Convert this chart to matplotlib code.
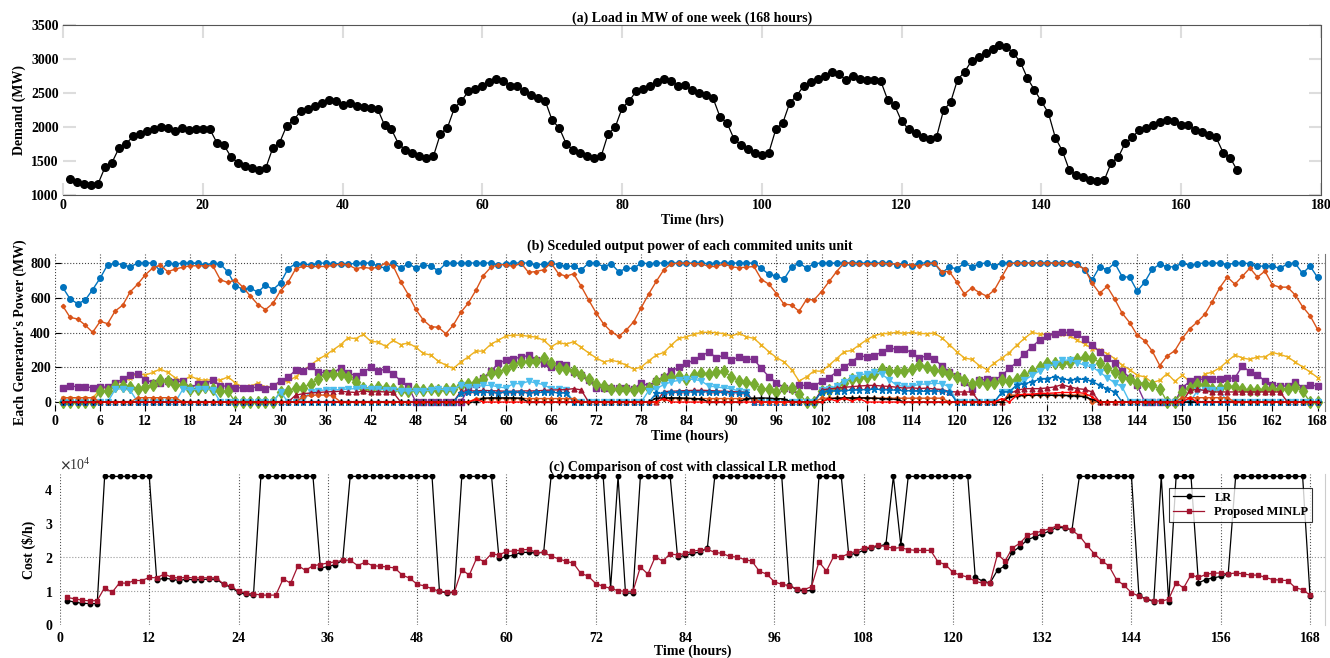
import matplotlib
matplotlib.use('Agg')
import matplotlib.pyplot as plt
import numpy as np
from matplotlib.ticker import ScalarFormatter

plt.rcParams['font.family'] = ['Liberation Serif', 'DejaVu Serif']
plt.rcParams['font.weight'] = 'bold'
plt.rcParams['axes.labelweight'] = 'bold'
plt.rcParams['axes.titleweight'] = 'bold'
plt.rcParams['mathtext.fontset'] = 'stix'
plt.rcParams['font.size'] = 10

hours = list(range(1, 169))

demand = [1236, 1197, 1162, 1143, 1162, 1408, 1477, 1689, 1753, 1861,
          1900, 1935, 1969, 1999, 1979, 1935, 1979, 1959, 1964, 1969,
          1969, 1772, 1738, 1566, 1477, 1433, 1394, 1369, 1394, 1689,
          1772, 2018, 2107, 2230, 2264, 2313, 2358, 2402, 2387, 2318,
          2353, 2304, 2294, 2284, 2269, 2028, 1964, 1753, 1664, 1615,
          1571, 1546, 1571, 1900, 1989, 2279, 2382, 2525, 2564, 2604,
          2658, 2702, 2678, 2609, 2604, 2525, 2471, 2427, 2382, 2097,
          1989, 1753, 1659, 1615, 1576, 1541, 1571, 1900, 1994, 2279,
          2382, 2525, 2564, 2609, 2658, 2707, 2678, 2609, 2619, 2540,
          2505, 2471, 2427, 2151, 2063, 1827, 1733, 1684, 1625, 1595,
          1625, 1969, 2063, 2358, 2461, 2609, 2663, 2707, 2751, 2806,
          2776, 2697, 2747, 2702, 2697, 2687, 2678, 2400, 2318, 2082,
          1969, 1915, 1856, 1831, 1856, 2250, 2363, 2697, 2810, 2973,
          3027, 3086, 3145, 3199, 3175, 3086, 2953, 2717, 2545, 2378,
          2205, 1841, 1649, 1364, 1300, 1261, 1221, 1202, 1221, 1477,
          1556, 1768, 1846, 1959, 1989, 2033, 2068, 2102, 2082, 2028,
          2033, 1959, 1920, 1886, 1846, 1625, 1551, 1364]

unit1 = [661, 593, 566, 586, 647, 713, 790, 798, 790, 778,
         800, 800, 800, 755, 800, 794, 800, 800, 800, 786,
         800, 794, 748, 669, 649, 655, 632, 674, 647, 686,
         767, 796, 794, 790, 798, 800, 796, 796, 794, 798,
         800, 800, 782, 769, 800, 771, 796, 771, 790, 782,
         755, 798, 800, 798, 800, 800, 800, 800, 788, 796,
         800, 800, 800, 786, 796, 800, 790, 780, 782, 759,
         800, 800, 778, 796, 750, 769, 769, 800, 796, 800,
         800, 800, 800, 800, 800, 800, 796, 800, 800, 800,
         800, 800, 800, 769, 734, 726, 707, 775, 800, 771,
         796, 800, 800, 800, 800, 800, 800, 800, 800, 800,
         800, 790, 800, 780, 800, 800, 800, 742, 778, 765,
         800, 778, 796, 800, 782, 800, 800, 800, 800, 800,
         800, 800, 800, 800, 800, 796, 761, 703, 778, 761,
         800, 722, 718, 638, 690, 765, 792, 778, 778, 800,
         786, 796, 800, 800, 800, 790, 800, 800, 796, 782,
         782, 782, 769, 796, 800, 740, 782, 717]

unit2 = [555, 487, 478, 443, 401, 464, 451, 524, 557, 634,
         678, 732, 771, 788, 750, 765, 776, 784, 784, 784,
         784, 703, 688, 703, 661, 609, 561, 532, 568, 640,
         688, 765, 782, 780, 780, 780, 786, 794, 790, 767,
         776, 769, 776, 800, 782, 692, 618, 534, 472, 434,
         430, 393, 443, 516, 570, 643, 728, 776, 790, 790,
         780, 800, 746, 751, 761, 800, 738, 724, 738, 667,
         588, 513, 449, 405, 378, 414, 462, 543, 622, 694,
         761, 796, 798, 800, 796, 796, 780, 780, 796, 778,
         773, 776, 780, 705, 678, 624, 563, 559, 522, 590,
         588, 636, 694, 751, 800, 800, 796, 796, 796, 798,
         796, 794, 790, 790, 782, 796, 800, 751, 751, 690,
         622, 657, 630, 609, 645, 722, 796, 800, 800, 800,
         800, 800, 800, 800, 796, 786, 767, 684, 626, 665,
         593, 511, 457, 385, 353, 293, 210, 266, 295, 366,
         422, 461, 505, 578, 659, 719, 678, 724, 771, 719,
         753, 674, 661, 661, 617, 549, 497, 418]

unit3 = [25, 25, 25, 25, 25, 70, 90, 110, 115, 140,
         165, 155, 170, 190, 170, 140, 120, 150, 130, 125,
         130, 125, 145, 110, 85, 90, 110, 85, 90, 115,
         120, 145, 180, 212, 245, 270, 300, 330, 370, 365,
         389, 350, 345, 320, 355, 330, 340, 315, 280, 270,
         235, 212, 193, 231, 260, 293, 293, 333, 356, 380,
         385, 385, 378, 374, 355, 318, 343, 333, 347, 314,
         283, 254, 231, 241, 231, 212, 189, 202, 237, 270,
         285, 328, 366, 376, 389, 401, 401, 399, 393, 380,
         395, 376, 366, 328, 289, 256, 231, 187, 121, 145,
         179, 177, 212, 250, 289, 297, 328, 358, 382, 393,
         395, 401, 395, 401, 395, 393, 397, 370, 331, 289,
         254, 245, 210, 187, 225, 254, 285, 328, 366, 401,
         391, 389, 385, 389, 382, 356, 335, 308, 299, 279,
         250, 212, 187, 154, 145, 112, 125, 164, 119, 154,
         119, 119, 160, 173, 197, 235, 270, 254, 245, 260,
         260, 285, 274, 260, 231, 202, 173, 141]

unit4 = [81, 91, 89, 87, 83, 85, 87, 110, 131, 158,
         164, 129, 112, 112, 121, 116, 121, 81, 104, 104,
         129, 92, 92, 83, 81, 83, 85, 77, 91, 123,
         143, 183, 179, 208, 173, 168, 168, 197, 166, 152,
         170, 200, 177, 191, 160, 123, 91, 0, 0, 0,
         0, 0, 0, 0, 77, 106, 139, 179, 222, 243,
         250, 258, 268, 241, 225, 202, 216, 212, 170, 158,
         125, 83, 83, 79, 79, 81, 77, 110, 92, 121,
         143, 179, 200, 222, 241, 264, 289, 254, 270, 241,
         260, 247, 245, 193, 145, 112, 81, 77, 96, 96,
         92, 119, 141, 173, 202, 231, 266, 260, 264, 289,
         312, 303, 304, 285, 254, 266, 247, 208, 173, 148,
         116, 77, 125, 131, 125, 154, 193, 231, 279, 318,
         356, 380, 393, 401, 401, 391, 362, 331, 289, 254,
         222, 179, 141, 96, 0, 0, 0, 0, 0, 83,
         119, 131, 131, 133, 133, 137, 139, 208, 173, 158,
         119, 96, 92, 92, 116, 83, 96, 94]

unit5 = [0, 0, 0, 0, 0, 62, 66, 91, 91, 87,
         77, 87, 100, 125, 121, 100, 96, 77, 77, 89,
         77, 62, 62, 0, 0, 0, 0, 0, 0, 60,
         64, 83, 83, 104, 131, 158, 160, 164, 143, 116,
         83, 77, 89, 83, 77, 67, 64, 77, 69, 77,
         69, 75, 77, 96, 102, 116, 135, 168, 173, 189,
         212, 231, 235, 235, 256, 225, 197, 189, 177, 158,
         135, 106, 91, 77, 77, 73, 71, 81, 81, 119,
         139, 145, 148, 131, 158, 166, 164, 173, 177, 145,
         123, 116, 102, 77, 77, 58, 83, 81, 48, 0,
         0, 62, 67, 83, 112, 131, 139, 145, 160, 189,
         179, 177, 181, 189, 212, 202, 187, 179, 164, 145,
         125, 102, 116, 104, 108, 125, 119, 131, 154, 179,
         202, 222, 225, 225, 231, 250, 260, 256, 227, 193,
         170, 145, 135, 112, 106, 96, 77, 0, 0, 58,
         83, 104, 100, 77, 83, 92, 89, 73, 69, 71,
         73, 77, 77, 77, 87, 64, 0, 0]

unit6 = [0, 0, 0, 0, 0, 0, 0, 73, 77, 67,
         0, 0, 0, 0, 0, 0, 73, 71, 73, 77,
         71, 0, 0, 0, 0, 0, 0, 0, 0, 58,
         0, 0, 19, 58, 64, 71, 71, 71, 75, 77,
         81, 77, 73, 71, 67, 64, 64, 66, 66, 67,
         77, 69, 69, 100, 87, 87, 96, 96, 87, 81,
         106, 106, 119, 110, 100, 77, 77, 67, 0, 0,
         0, 0, 0, 0, 0, 0, 0, 0, 66, 77,
         100, 116, 125, 131, 131, 121, 92, 87, 81, 77,
         62, 58, 0, 0, 0, 0, 0, 0, 0, 0,
         0, 67, 77, 92, 116, 139, 154, 164, 173, 160,
         129, 96, 91, 91, 102, 104, 108, 106, 87, 0,
         0, 0, 0, 0, 0, 58, 58, 96, 125, 154,
         179, 202, 216, 241, 241, 227, 212, 202, 173, 141,
         110, 87, 0, 0, 0, 0, 0, 0, 0, 0,
         0, 64, 69, 69, 69, 0, 0, 0, 0, 0,
         0, 0, 0, 0, 0, 0, 0, 0]

unit7 = [0, 0, 0, 0, 0, 0, 0, 0, 0, 0,
         0, 0, 0, 0, 0, 0, 0, 0, 0, 0,
         0, 0, 0, 0, 0, 0, 0, 0, 0, 0,
         0, 39, 48, 52, 55, 58, 60, 62, 58, 55,
         64, 58, 60, 58, 55, 0, 0, 0, 0, 0,
         0, 0, 0, 62, 64, 64, 67, 65, 64, 62,
         62, 64, 64, 64, 67, 69, 70, 72, 77, 70,
         0, 0, 0, 0, 0, 0, 0, 0, 0, 0,
         60, 62, 64, 66, 67, 68, 66, 64, 62, 60,
         58, 55, 0, 0, 0, 0, 0, 0, 0, 0,
         0, 70, 75, 80, 85, 88, 92, 95, 96, 92,
         90, 85, 80, 82, 78, 80, 75, 72, 60, 58,
         58, 58, 0, 0, 0, 0, 48, 67, 77, 77,
         77, 81, 87, 100, 87, 77, 73, 58, 0, 0,
         0, 0, 0, 0, 0, 0, 0, 0, 0, 0,
         67, 73, 67, 58, 58, 58, 58, 58, 58, 58,
         58, 58, 58, 0, 0, 0, 0, 0]

unit8 = [0, 0, 0, 0, 0, 0, 0, 0, 0, 0,
         0, 0, 0, 0, 0, 0, 0, 0, 0, 0,
         0, 0, 0, 0, 0, 0, 0, 0, 0, 0,
         0, 0, 0, 0, 0, 0, 0, 0, 0, 0,
         0, 0, 0, 0, 0, 0, 0, 0, 0, 0,
         0, 0, 0, 52, 55, 55, 56, 55, 54, 55,
         56, 55, 54, 55, 56, 55, 54, 52, 0, 0,
         0, 0, 0, 0, 0, 0, 0, 0, 0, 50,
         52, 55, 56, 58, 58, 60, 58, 56, 55, 54,
         52, 50, 0, 0, 0, 0, 0, 0, 0, 0,
         0, 60, 62, 64, 66, 68, 70, 72, 74, 72,
         70, 68, 66, 64, 62, 62, 64, 62, 60, 0,
         0, 0, 0, 0, 0, 58, 60, 100, 106, 116,
         131, 135, 145, 135, 125, 131, 131, 119, 96, 77,
         58, 0, 0, 0, 0, 0, 0, 0, 0, 0,
         0, 0, 0, 0, 0, 0, 0, 0, 0, 0,
         0, 0, 0, 0, 0, 0, 0, 0]

unit9 = [0, 0, 0, 0, 0, 0, 0, 0, 0, 0,
         0, 0, 0, 0, 0, 0, 0, 0, 0, 0,
         0, 0, 0, 0, 0, 0, 0, 0, 0, 0,
         0, 0, 0, 0, 0, 0, 0, 0, 0, 0,
         0, 0, 0, 0, 0, 0, 0, 0, 0, 0,
         0, 0, 0, 0, 0, 0, 22, 24, 24, 24,
         24, 22, 0, 0, 0, 0, 0, 0, 0, 0,
         0, 0, 0, 0, 0, 0, 0, 0, 0, 22,
         24, 24, 24, 22, 20, 18, 0, 0, 0, 0,
         0, 20, 22, 24, 22, 20, 18, 0, 0, 0,
         0, 0, 20, 22, 24, 24, 24, 24, 22, 20,
         18, 15, 0, 0, 0, 0, 0, 0, 0, 0,
         0, 0, 0, 0, 0, 0, 30, 35, 38, 40,
         40, 40, 38, 38, 36, 35, 30, 15, 0, 0,
         0, 0, 0, 0, 0, 0, 0, 0, 0, 0,
         0, 0, 0, 0, 0, 0, 0, 0, 0, 0,
         0, 0, 0, 0, 0, 0, 0, 0]

unit10 = [0, 0, 0, 0, 0, 0, 0, 0, 0, 0,
          0, 0, 0, 0, 0, 0, 0, 0, 0, 0,
          0, 0, 0, 0, 0, 0, 0, 0, 0, 0,
          0, 0, 0, 0, 0, 0, 0, 0, 0, 0,
          0, 0, 0, 0, 0, 0, 0, 0, 0, 0,
          0, 0, 0, 0, 0, 15, 0, 0, 0, 0,
          0, 0, 0, 0, 0, 0, 0, 0, 0, 0,
          0, 0, 0, 0, 0, 0, 0, 0, 0, 0,
          20, 0, 0, 0, 0, 0, 0, 0, 0, 0,
          0, 0, 0, 0, 0, 0, 0, 0, 0, 0,
          0, 0, 20, 5, 22, 5, 20, 0, 0, 0,
          0, 0, 0, 0, 0, 0, 0, 0, 0, 0,
          0, 0, 0, 0, 0, 20, 0, 40, 45, 45,
          50, 50, 52, 55, 55, 55, 50, 30, 0, 0,
          0, 0, 0, 0, 0, 0, 0, 0, 0, 0,
          25, 0, 0, 0, 0, 0, 0, 0, 0, 0,
          0, 0, 0, 0, 0, 0, 0, 0]

unit11 = [25, 25, 25, 25, 25, 0, 0, 0, 0, 0,
          25, 25, 25, 25, 25, 25, 0, 0, 0, 0,
          0, 0, 0, 0, 0, 0, 0, 0, 0, 0,
          0, 0, 30, 40, 40, 40, 35, 0, 0, 0,
          0, 0, 0, 0, 0, 0, 0, 0, 0, 0,
          0, 0, 0, 0, 0, 20, 20, 20, 20, 20,
          20, 20, 20, 20, 20, 20, 20, 20, 20, 0,
          0, 0, 0, 0, 0, 0, 0, 0, 0, 0,
          20, 20, 20, 20, 20, 20, 20, 20, 20, 20,
          20, 20, 20, 0, 0, 0, 0, 0, 0, 0,
          0, 22, 22, 22, 22, 22, 22, 22, 22, 22,
          22, 22, 22, 22, 22, 22, 22, 22, 0, 0,
          0, 0, 0, 0, 0, 0, 40, 40, 40, 40,
          40, 40, 40, 40, 40, 40, 40, 0, 0, 0,
          0, 0, 0, 0, 0, 0, 0, 0, 0, 25,
          25, 25, 25, 25, 25, 25, 0, 0, 0, 0,
          0, 0, 0, 0, 0, 0, 0, 0]

cost_minlp = [0.81, 0.77, 0.73, 0.71, 0.72, 1.10, 0.96, 1.24, 1.23, 1.31,
              1.31, 1.40, 1.39, 1.50, 1.41, 1.38, 1.41, 1.38, 1.39, 1.39,
              1.39, 1.20, 1.14, 0.99, 0.94, 0.92, 0.88, 0.88, 0.88, 1.36,
              1.23, 1.75, 1.61, 1.75, 1.78, 1.83, 1.86, 1.91, 1.91, 1.75,
              1.85, 1.75, 1.73, 1.71, 1.68, 1.47, 1.38, 1.20, 1.15, 1.07,
              0.99, 0.97, 0.97, 1.63, 1.47, 1.97, 1.87, 2.10, 2.06, 2.17,
              2.18, 2.21, 2.23, 2.14, 2.14, 2.03, 1.95, 1.88, 1.82, 1.52,
              1.44, 1.22, 1.14, 1.08, 1.01, 0.99, 0.99, 1.71, 1.50, 2.01,
              1.88, 2.10, 2.06, 2.11, 2.17, 2.21, 2.23, 2.14, 2.11, 2.02,
              2.00, 1.93, 1.88, 1.58, 1.50, 1.27, 1.20, 1.16, 1.07, 1.04,
              1.13, 1.86, 1.59, 2.03, 2.00, 2.11, 2.17, 2.27, 2.30, 2.35,
              2.31, 2.26, 2.28, 2.22, 2.20, 2.20, 2.20, 1.86, 1.78, 1.55,
              1.47, 1.41, 1.29, 1.23, 1.25, 2.09, 1.88, 2.27, 2.41, 2.64,
              2.71, 2.77, 2.84, 2.92, 2.89, 2.79, 2.63, 2.35, 2.10, 1.90,
              1.73, 1.33, 1.17, 0.95, 0.85, 0.76, 0.72, 0.70, 0.76, 1.25,
              1.09, 1.48, 1.40, 1.49, 1.53, 1.53, 1.51, 1.53, 1.51, 1.47,
              1.47, 1.40, 1.34, 1.32, 1.31, 1.10, 1.04, 0.88]

cost_lr = [0.72, 0.67, 0.64, 0.63, 0.63, 4.38, 4.38, 4.38, 4.38, 4.38,
           4.38, 4.38, 1.33, 1.38, 1.35, 1.31, 1.35, 1.33, 1.34, 1.35,
           1.35, 1.20, 1.11, 0.96, 0.90, 0.87, 4.38, 4.38, 4.38, 4.38,
           4.38, 4.38, 4.38, 4.38, 1.68, 1.72, 1.78, 1.91, 4.38, 4.38,
           4.38, 4.38, 4.38, 4.38, 4.38, 4.38, 4.38, 4.38, 4.38, 4.38,
           0.99, 0.94, 0.97, 4.38, 4.38, 4.38, 4.38, 4.38, 1.96, 2.02,
           2.06, 2.14, 2.14, 2.12, 2.14, 4.38, 4.38, 4.38, 4.38, 4.38,
           4.38, 4.38, 4.38, 1.09, 4.38, 0.94, 0.94, 4.38, 4.38, 4.38,
           4.38, 4.38, 2.00, 2.05, 2.11, 2.15, 2.26, 4.38, 4.38, 4.38,
           4.38, 4.38, 4.38, 4.38, 4.38, 4.38, 4.38, 1.17, 1.04, 1.00,
           1.02, 4.38, 4.38, 4.38, 4.38, 2.07, 2.11, 2.20, 2.28, 2.32,
           2.38, 4.38, 2.35, 4.38, 4.38, 4.38, 4.38, 4.38, 4.38, 4.38,
           4.38, 4.38, 1.41, 1.29, 1.24, 1.62, 1.74, 2.15, 2.31, 2.51,
           2.60, 2.68, 2.77, 2.88, 2.86, 2.80, 4.38, 4.38, 4.38, 4.38,
           4.38, 4.38, 4.38, 4.38, 0.87, 0.76, 0.69, 4.38, 0.68, 4.38,
           4.38, 4.38, 1.24, 1.34, 1.39, 1.43, 1.51, 4.38, 4.38, 4.38,
           4.38, 4.38, 4.38, 4.38, 4.38, 4.38, 4.38, 0.84]

cost_scale = 1e4

fig = plt.figure(figsize=(13.3, 6.58), dpi=100)

# ---------------- (a) ----------------
axA = fig.add_axes([0.0474, 0.7036, 0.9458, 0.2584])
axA.plot(hours, demand, color='black', lw=0.9, marker='o', ms=5.5)
axA.set_xlim(0, 180)
axA.set_ylim(1000, 3500)
axA.set_xticks(range(0, 181, 20))
axA.set_yticks(range(1000, 3501, 500))
axA.tick_params(direction='in', length=9, width=1.5, color='#dddddd',
                top=True, right=True, labelsize=10, pad=3)
for s in ['top', 'bottom', 'right']:
    axA.spines[s].set_color('#555555')
axA.spines['left'].set_visible(False)
axA.set_title('(a) Load in MW of one week (168 hours)', fontsize=10, pad=2)
axA.set_xlabel('Time (hrs)', fontsize=10, labelpad=1)
axA.set_ylabel('Demand (MW)', fontsize=10, labelpad=4)

# ---------------- (b) ----------------
axB = fig.add_axes([0.0414, 0.3758, 0.9549, 0.2377])
axB.set_xlim(0, 169)
axB.set_ylim(-50, 850)
axB.set_xticks(range(0, 169, 6))
axB.set_yticks(range(0, 801, 200))
axB.grid(True, linestyle=':', color='#444444', lw=0.8)
series = [
    (unit1, '#0072BD', 'o', 4.0, 1.0),
    (unit2, '#D95319', 'D', 2.2, 1.0),
    (unit3, '#EDB120', 'x', 3.0, 1.0),
    (unit4, '#7E2F8E', 's', 5.0, 1.0),
    (unit5, '#77AC30', 'd', 6.0, 1.0),
    (unit6, '#4DBEEE', 'v', 4.0, 1.0),
    (unit7, '#A2142F', '^', 3.5, 1.0),
    (unit8, '#0072BD', '*', 5.0, 1.0),
    (unit11, '#D95319', 'D', 2.2, 1.0),
    (unit9, '#000000', '+', 5.0, 1.0),
    (unit10, '#FF0000', '.', 2.0, 1.0),
]
for vals, col, mk, ms, lw in series:
    axB.plot(hours, vals, color=col, marker=mk, ms=ms, lw=lw)
axB.tick_params(direction='in', length=4, labelsize=10, pad=3)
for s in ['top', 'left', 'bottom']:
    axB.spines[s].set_visible(False)
axB.spines['right'].set_color('#777777')
axB.set_title('(b) Sceduled output power of each commited units unit', fontsize=10, pad=3)
axB.set_xlabel('Time (hours)', fontsize=10, labelpad=1)
axB.set_ylabel("Each Generator's Power (MW)", fontsize=10, labelpad=2)

# ---------------- (c) ----------------
axC = fig.add_axes([0.0451, 0.0502, 0.9511, 0.2294])
lr_vals = [v * cost_scale for v in cost_lr]
minlp_vals = [v * cost_scale for v in cost_minlp]
axC.plot(hours, lr_vals, color='black', marker='o', ms=3.2, lw=0.9, label='LR')
axC.plot(hours, minlp_vals, color='#A2142F', marker='s', ms=2.8, lw=0.9,
         label='Proposed MINLP')
axC.set_xlim(0, 170)
axC.set_ylim(0, 4.45e4)
axC.set_xticks(range(0, 169, 12))
axC.set_yticks([0, 1e4, 2e4, 3e4, 4e4])
fmt = ScalarFormatter(useMathText=True)
fmt.set_powerlimits((0, 0))
axC.yaxis.set_major_formatter(fmt)
axC.yaxis.get_offset_text().set_fontsize(10)
axC.yaxis.get_offset_text().set_fontweight('normal')
axC.yaxis.get_offset_text().set_color('#333333')
axC.grid(True, axis='x', linestyle=':', color='#555555', lw=0.8)
for yv in [1e4, 2e4]:
    axC.axhline(yv, linestyle=':', color='#999999', lw=0.8, zorder=0)
axC.tick_params(direction='in', length=0, labelsize=10, pad=5)
for s in ['top', 'left', 'bottom']:
    axC.spines[s].set_visible(False)
axC.spines['right'].set_color('#cccccc')
axC.set_title('(c) Comparison of cost with classical LR method', fontsize=10, pad=-2)
axC.set_xlabel('Time (hours)', fontsize=10, labelpad=0)
axC.set_ylabel('Cost (\\$/h)', fontsize=10, labelpad=6)
leg = axC.legend(loc='upper right', bbox_to_anchor=(0.995, 0.95), fontsize=9,
                 frameon=True, fancybox=False, edgecolor='black',
                 borderpad=0.3, handlelength=2.5, labelspacing=0.2)
leg.get_frame().set_linewidth(0.8)

fig.savefig('out.png', dpi=100)
